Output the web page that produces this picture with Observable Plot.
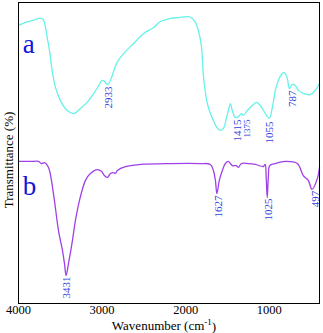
<!DOCTYPE html>
<html>
<head>
<meta charset="utf-8">
<script src="https://cdn.jsdelivr.net/npm/d3@7"></script>
<script src="https://cdn.jsdelivr.net/npm/@observablehq/plot@0.6"></script>
<style>
  html, body { margin: 0; padding: 0; background: #fff; }
  svg { display: block; }
</style>
</head>
<body>
<div id="chart"></div>
<script>
// ---- data (wavenumber cm^-1, transmittance %) ----
const wavenumberA = [4000,3916,3833,3761,3725,3698,3677,3657,3635,3618,3597,3558,3498,3418,3339,3259,3179,3100,3040,3000,2972,2940,2912,2880,2820,2741,2622,2502,2383,2303,2183,2088,1968,1920,1884,1849,1813,1789,1765,1741,1705,1669,1628,1586,1550,1514,1490,1466,1443,1408,1370,1335,1311,1263,1203,1156,1108,1048,1000,964,928,892,845,821,785,761,725,689,653,594,510,450,400];
const transA = [92.4,93.4,94.0,94.7,94.7,94.0,91.7,88.4,85.0,81.7,77.4,71.8,67.4,64.1,63.1,64.8,66.8,69.8,72.4,74.1,73.8,72.8,73.4,75.7,80.1,83.1,86.4,89.7,91.7,93.7,94.7,95.0,95.3,94.7,93.4,90.7,85.7,75.7,70.1,66.4,63.1,60.8,58.5,57.5,58.1,61.5,64.1,66.4,64.1,61.8,62.1,63.1,62.5,64.1,65.8,66.8,65.8,63.1,61.5,65.1,70.8,74.1,76.4,76.7,74.8,71.4,72.8,72.4,70.8,69.8,69.4,70.8,73.1];

const wavenumberB = [4000,3857,3761,3725,3689,3653,3629,3606,3570,3522,3474,3450,3431,3402,3355,3319,3271,3199,3140,3056,3008,2972,2936,2900,2865,2841,2817,2721,2542,2183,1825,1705,1669,1645,1627,1598,1562,1526,1490,1443,1395,1370,1335,1251,1167,1072,1050,1038,1025,1012,995,928,809,665,594,534,490,426,400];
const transB = [47.2,47.2,47.2,46.5,46.8,45.8,44.2,40.9,34.2,24.3,17.6,13.3,9.3,13.3,20.9,27.6,34.2,40.9,43.2,44.5,43.9,42.5,41.9,43.2,43.5,43.2,44.2,45.5,46.2,46.5,46.5,46.2,44.2,40.9,36.5,40.9,44.2,46.5,47.2,45.8,45.8,45.2,46.5,46.5,46.2,45.5,46.2,42.0,35.2,42.0,45.8,46.5,47.2,46.5,42.5,40.9,37.9,41.5,45.2];

// peak labels: text, where placed (wavenumber, transmittance of label top)
const peakTextA = ["2933","1415","1375","1055","787"];
const peakXA = [2924,1383,1263,1000,725];
const peakYA = [72.1,61.1,61.1,60.5,70.8];
const peakSizeA = [11,11,9,11,11];

const peakTextB = ["3431","1627","1025","497"];
const peakXB = [3426,1610,1012,450];
const peakYB = [9.0,35.9,34.9,37.5];

const seriesNames = ["a","b"];
const seriesNameX = [3950,3950];
const seriesNameY = [84.7,37.5];

const xTicks = [4000,3000,2000,1000];
const xLabel = "Wavenumber (cm-1)";
const yLabel = "Transmittance (%)";

const colorA = "#66f2e8";
const colorB = "#a040e8";
const labelBlue = "#2f3fe0";
const font = "'Liberation Serif', 'Times New Roman', serif";

const dataA = wavenumberA.map((w, i) => ({w, t: transA[i]}));
const dataB = wavenumberB.map((w, i) => ({w, t: transB[i]}));
const peaksA = peakTextA.map((s, i) => ({s, w: peakXA[i], t: peakYA[i], size: peakSizeA[i]}));
const peaksB = peakTextB.map((s, i) => ({s, w: peakXB[i], t: peakYB[i]}));
const names = seriesNames.map((s, i) => ({s, w: seriesNameX[i], t: seriesNameY[i]}));

const chart = Plot.plot({
  width: 323,
  height: 333,
  marginLeft: 18,
  marginRight: 4,
  marginTop: 2,
  marginBottom: 30,
  style: {fontFamily: font, background: "#fff"},
  x: {domain: [4000, 400], axis: null},
  y: {domain: [0, 100], axis: null},
  marks: [
    Plot.line(dataA, {x: "w", y: "t", stroke: colorA, strokeWidth: 1.3, curve: "catmull-rom"}),
    Plot.line(dataB, {x: "w", y: "t", stroke: colorB, strokeWidth: 1.3, curve: "catmull-rom"}),
    Plot.text(peaksA.filter(d => d.size === 11), {x: "w", y: "t", text: "s", rotate: -90, textAnchor: "end", lineAnchor: "middle", fill: labelBlue, fontSize: 11}),
    Plot.text(peaksA.filter(d => d.size === 9), {x: "w", y: "t", text: "s", rotate: -90, textAnchor: "end", lineAnchor: "middle", fill: labelBlue, fontSize: 9}),
    Plot.text(peaksB, {x: "w", y: "t", text: "s", rotate: -90, textAnchor: "end", lineAnchor: "middle", fill: labelBlue, fontSize: 11}),
    Plot.text(names, {x: "w", y: "t", text: "s", textAnchor: "start", lineAnchor: "bottom", fill: "#1414d8", fontSize: 27, dy: 4}),
    Plot.axisX({ticks: xTicks, tickSize: 0, tickPadding: 2, tickFormat: d => String(d), fontSize: 12.5, label: null}),
    Plot.text([xLabel], {frameAnchor: "bottom", dy: 26, dx: -5, lineAnchor: "bottom", fontSize: 13, fill: "black"}),
    Plot.text([yLabel], {frameAnchor: "left", textAnchor: "middle", lineAnchor: "middle", rotate: -90, dx: -10, dy: 7, fontSize: 13, fill: "black"}),
    Plot.frame({stroke: "black", strokeWidth: 1})
  ]
});

// superscript for cm-1
d3.select(chart).selectAll("text").filter(function() { return this.textContent === xLabel; }).each(function() {
  const t = d3.select(this);
  t.text(null);
  t.append("tspan").text("Wavenumber (cm");
  t.append("tspan").attr("font-size", 9).attr("dy", "-0.45em").text("-1");
  t.append("tspan").attr("dy", "0.45em").text(")");
});

document.getElementById("chart").appendChild(chart);
</script>
</body>
</html>
